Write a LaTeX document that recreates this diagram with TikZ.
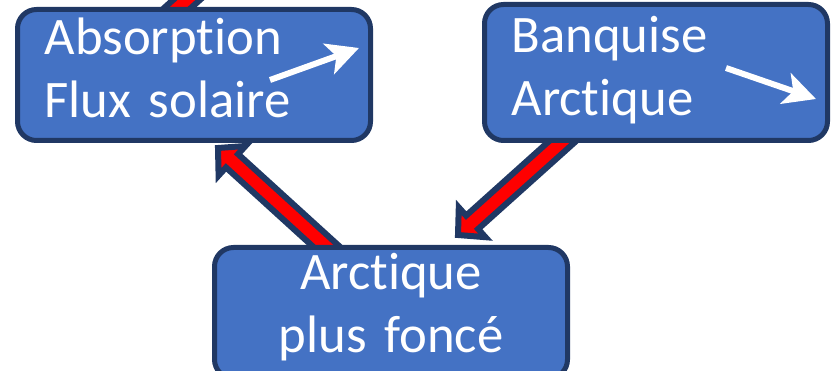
\documentclass[tikz,border=0pt]{standalone}
\usepackage{fontspec}
\setmainfont{Carlito}[RawFeature={-liga;-clig;-calt}]
\usetikzlibrary{arrows.meta, calc}
\definecolor{boxblue}{HTML}{4472C4}
\definecolor{boxnavy}{HTML}{203864}
\pgfdeclarelayer{behind}
\pgfsetlayers{behind,main}
\newcommand{\boxfont}{\fontsize{52.7}{63}\selectfont\spaceskip=7pt\relax}
\tikzstyle{loopbox} = [rectangle, rounded corners=19pt, draw=boxnavy, line width=5pt, fill=boxblue, text=white, font=\boxfont, inner xsep=27pt, inner ysep=0pt, text height=40pt, text depth=80pt]
\tikzstyle{feedback} = [fill=red, draw=boxnavy, line width=6pt, line join=miter]
\tikzstyle{trend} = [white, line width=6pt, -{Stealth[length=32pt, width=32pt, inset=8pt]}]

\newcommand{\feedbackarrow}[2]{%
  \coordinate (fbbase) at ($(#2)!19pt!(#1)$);
  \filldraw[feedback] ($(#1)!9pt!90:(#2)$) -- ($(fbbase)!9pt!-90:(#1)$) -- ($(fbbase)!20pt!-90:(#1)$) -- (#2) -- ($(fbbase)!20pt!90:(#1)$) -- ($(fbbase)!9pt!90:(#1)$) -- ($(#1)!9pt!-90:(#2)$) -- cycle;
}

\begin{document}
\begin{tikzpicture}[x=1pt, y=-1pt]
\useasboundingbox (0,0) rectangle (833,371);
        \node (absorption) [loopbox, minimum width=353pt, minimum height=131pt, text width=299pt, align=left] at (194,75) {Absorption\\Flux solaire};
        \node (banquise) [loopbox, minimum width=343pt, minimum height=136pt, text width=289pt, align=left] at (656,72.5) {Banquise\\Arctique};
        \node (arctique) [loopbox, minimum width=353pt, minimum height=131pt, text width=299pt, align=center, text depth=86pt] at (391,313) {Arctique\\plus foncé};
        % white trend arrows inside the boxes
        \coordinate (absUpFrom) at (270,80);
        \coordinate (absUpTo) at (359,48);
        \coordinate (iceDownFrom) at (726,68);
        \coordinate (iceDownTo) at (816,99);
        \draw [trend] (absUpFrom) -- (absUpTo);
        \draw [trend] (iceDownFrom) -- (iceDownTo);
        % red feedback arrows behind the boxes
        \begin{pgfonlayer}{behind}
        \coordinate (darkFrom) at ($(arctique.north)+(-51,14)$);
        \coordinate (darkTo) at ($(absorption.south)+(24,5)$);
        \coordinate (iceFrom) at ($(banquise.south)+(-81,-13)$);
        \coordinate (iceTo) at ($(arctique.north)+(67,-10)$);
        \coordinate (absOutFrom) at ($(absorption.north)+(-32,15)$);
        \coordinate (absOut) at (263,-69);
        \feedbackarrow{darkFrom}{darkTo}
        \feedbackarrow{iceFrom}{iceTo}
        \feedbackarrow{absOutFrom}{absOut}
        \end{pgfonlayer}
\end{tikzpicture}
\end{document}
